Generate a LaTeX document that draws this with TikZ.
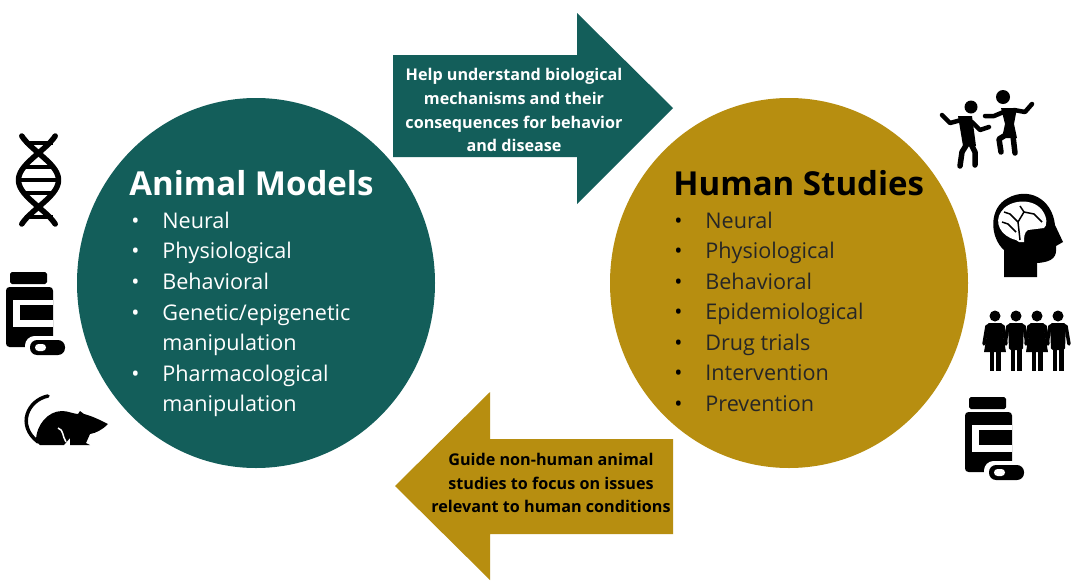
\documentclass[tikz,border=0pt]{standalone}
\usepackage{fontspec}
\setmainfont{Open Sans}
\usetikzlibrary{arrows.meta,calc,positioning}
\definecolor{tealdark}{HTML}{135E5A}
\definecolor{golddark}{HTML}{B78E10}
\tikzset{
  title/.style={font=\fontsize{18.8}{22}\selectfont\bfseries, anchor=west, inner sep=0pt},
  item/.style={font=\fontsize{12.3}{14}\selectfont, anchor=west, inner sep=0pt, text height=10pt, text depth=1pt},
  note/.style={font=\fontsize{9.2}{13.6}\selectfont\bfseries, align=center, inner sep=0pt},
  icon/.style={black, line width=0.09cm, line cap=round, line join=round},
  % pill bottle, origin at top left of the icon
  bottle/.pic={
    \fill[black, rounded corners=1] (4,2) rectangle (41,14);
    \fill[black, rounded corners=2] (0,17) rectangle (47,77);
    \fill[white] (7,30) rectangle (47,57);
    \fill[black] (14,35) rectangle (47,50);
    \fill[white, rounded corners=5.5pt] (19,66) rectangle (63,89);
    \fill[black, rounded corners=4pt] (24,70) rectangle (59,85);
    \fill[white, rounded corners=2pt] (29,74) rectangle (40,81);
  }
}
\begin{document}
\begin{tikzpicture}[x=0.02cm, y=-0.02cm]
  \useasboundingbox (0,0) rectangle (1079,582);
  \fill[white] (0,0) rectangle (1079,582);
  % circles
  \fill[tealdark] (256,283) ellipse [x radius=179, y radius=185];
  \fill[golddark] (789,283) ellipse [x radius=179, y radius=185];
  % arrows
  \fill[tealdark] (393,55) -- (577,55) -- (577,13) -- (673,108) -- (577,204) -- (577,157) -- (393,157) -- cycle;
  \fill[golddark] (673,439) -- (490,439) -- (490,392) -- (395,486) -- (490,580) -- (490,534) -- (673,534) -- cycle;
  % arrow texts
  \node[note, text=white] (helpnote) at (514,110) {Help understand biological\\mechanisms and their\\consequences for behavior\\and disease};
  \node[note, text=black] (guidenote) at (551,483) {Guide non-human animal\\studies to focus on issues\\relevant to human conditions};
  % titles
  \node[title, text=white] (animaltitle) at (129,183) {Animal Models};
  \node[title, text=black] (humantitle) at (673,183) {Human Studies};
  % left list
  \foreach \y in {221,251,282,313,374}
    {
      \node[item, text=white] (animaldot\y) at (131,\y) {•};
    }
  \foreach \y/\txt in {221/Neural,251/Physiological,282/Behavioral,313/Genetic\slash epigenetic,343/manipulation,374/Pharmacological,404/manipulation}
    {
      \node[item, text=white] (animalitem\y) at (162,\y) {\txt};
    }
  % right list
  \foreach \y/\txt in {221/Neural,251/Physiological,282/Behavioral,312/Epidemiological,343/Drug trials,373/Intervention,404/Prevention}
    {
      \node[item, text=black] (humandot\y) at (674,\y) {•};
      \node[item, text=black!85] (humanitem\y) at (705,\y) {\txt};
    }
  % dna
  \draw[icon, line width=0.11cm, domain=136:224, samples=40, smooth, variable=\t] plot ({38.5+20*sin((\t-153)*180/54)},\t);
  \draw[icon, line width=0.11cm, domain=136:224, samples=40, smooth, variable=\t] plot ({38.5-20*sin((\t-153)*180/54)},\t);
  \foreach \y/\w in {143/14,167/14,180/18,193/14,217/14}
    {
      \draw[black, line width=0.07cm] (38.5-\w,\y) -- (38.5+\w,\y);
    }
  % bottles
  \pic at (6,270) {bottle};
  \pic at (965,395) {bottle};
  % mouse
  \draw[icon, line width=0.07cm] (48,396) .. controls (28,400) and (16,425) .. (38,442);
  \fill[black] (36,441) .. controls (36,425) and (48,411) .. (62,411) .. controls (68,411) and (74,414) .. (78,414)
    -- (80,411) -- (84,414) .. controls (92,416) and (100,420) .. (108,424) .. controls (102,430) and (96,433) .. (90,434)
    -- (86,443) -- (90,445) -- (70,445) -- (70,438) -- (64,445) -- (40,445) -- cycle;
  \draw[white, line width=0.03cm] (58,428) .. controls (64,430) and (62,436) .. (66,442);
  % dancers
  \fill[black] (971,107) circle (6.5);
  \fill[black] (1003,97) circle (7);
  \draw[icon] (942,115) -- (950,123) -- (965,119);
  \draw[icon] (972,122) -- (980,130) -- (989,127);
  \fill[black] (958,116) -- (972,116) -- (976,146) -- (963,146) -- cycle;
  \draw[icon, line width=0.11cm] (967,144) -- (962,152) -- (960,166);
  \draw[icon, line width=0.11cm] (971,144) -- (975,152) -- (975,165);
  \draw[icon] (985,116) -- (994,116) -- (1006,111);
  \draw[icon] (1014,110) -- (1025,112) -- (1032,104);
  \fill[black] (1001,108) -- (1017,108) -- (1014,124) -- (1017,138) -- (1002,138) -- (1005,124) -- cycle;
  \draw[icon, line width=0.11cm] (1004,136) -- (999,139) -- (1001,152);
  \draw[icon, line width=0.11cm] (1013,136) -- (1015,153);
  % head with brain
  \fill[black] (1004,277) -- (1004,250) .. controls (990,238) and (988,208) .. (1008,198)
    .. controls (1028,187) and (1052,198) .. (1055,225) -- (1063,242) -- (1056,246) .. controls (1057,256) and (1054,262) .. (1037,263) -- (1037,277) -- cycle;
  \fill[white] (1019,242) -- (1016,240) .. controls (1000,236) and (994,222) .. (1001,212) .. controls (1008,200) and (1032,197) .. (1042,210)
    .. controls (1048,218) and (1047,226) .. (1044,228) -- (1028,230) .. controls (1024,232) and (1024,238) .. (1024,242) -- cycle;
  \draw[black, line width=0.03cm] (1020,240) -- (1018,222) -- (1024,212) -- (1020,206);
  \draw[black, line width=0.03cm] (1018,222) -- (1010,214) -- (1004,212);
  \draw[black, line width=0.03cm] (1016,232) -- (1008,224) -- (1002,222);
  \draw[black, line width=0.03cm] (1024,212) -- (1034,214) -- (1042,222);
  % people
  \foreach \x in {995,1016,1037,1058}
    {
      \fill[black] (\x,316) circle (5.5);
      \fill[black] (\x-5.5,348) rectangle (\x-0.7,371);
      \fill[black] (\x+0.7,348) rectangle (\x+5.5,371);
      \fill[black, rounded corners=1] (\x-8,323) -- (\x+8,323) -- (\x+7,350) -- (\x-7,350) -- cycle;
      \draw[black, line width=0.07cm, line cap=round] (\x-8,326) -- (\x-11,344);
      \draw[black, line width=0.07cm, line cap=round] (\x+8,326) -- (\x+11,344);
    }
  \foreach \x in {995,1037}
    {
      \fill[black] (\x-6,323) -- (\x+6,323) -- (\x+11,352) -- (\x-11,352) -- cycle;
    }
\end{tikzpicture}
\end{document}
